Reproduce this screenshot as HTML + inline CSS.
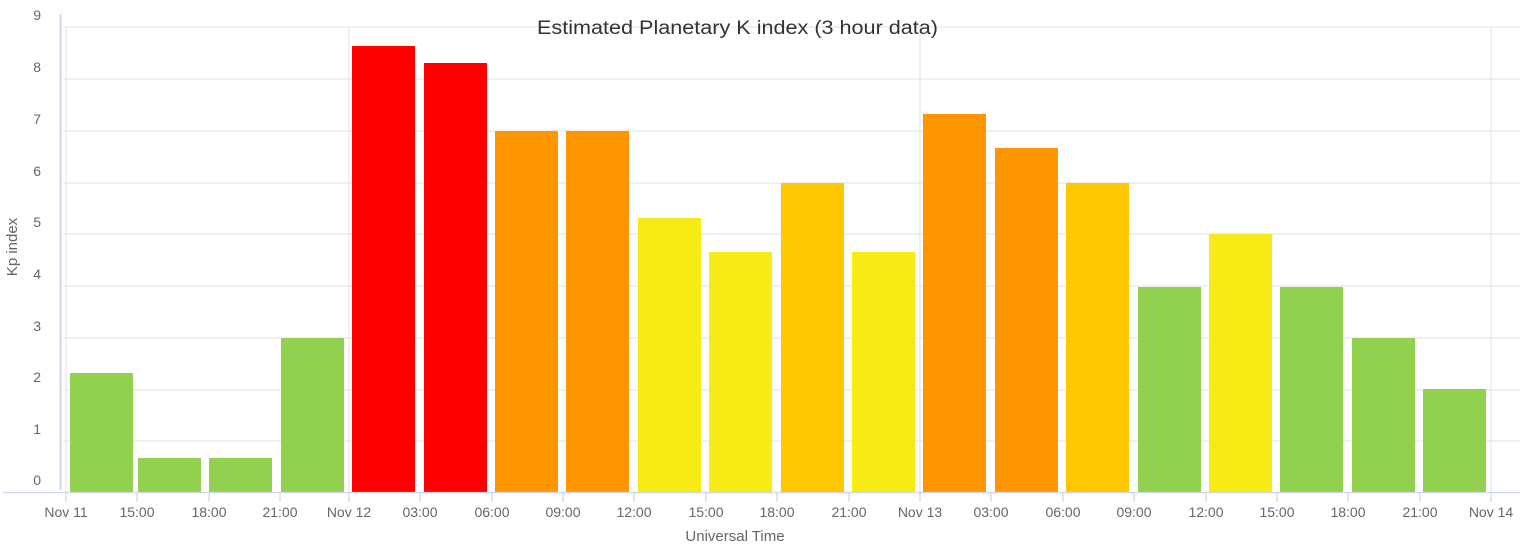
<!DOCTYPE html>
<html><head><meta charset="utf-8"><style>
html,body{margin:0;padding:0;background:#fff;}
svg{display:block;font-family:"Liberation Sans",sans-serif;}
</style></head><body>
<svg width="1520" height="546" viewBox="0 0 1520 546" xmlns="http://www.w3.org/2000/svg">
<g stroke="#e6e6e6" stroke-width="1.2">
<line x1="63" y1="27" x2="1520" y2="27"/><line x1="63" y1="79" x2="1520" y2="79"/><line x1="63" y1="131" x2="1520" y2="131"/><line x1="63" y1="183" x2="1520" y2="183"/><line x1="63" y1="234" x2="1520" y2="234"/><line x1="63" y1="286" x2="1520" y2="286"/><line x1="63" y1="338" x2="1520" y2="338"/><line x1="63" y1="390" x2="1520" y2="390"/><line x1="63" y1="441" x2="1520" y2="441"/>
<line x1="66" y1="27" x2="66" y2="492"/><line x1="349" y1="27" x2="349" y2="492"/><line x1="920" y1="27" x2="920" y2="492"/><line x1="1491" y1="27" x2="1491" y2="492"/>
</g>
<line x1="60.5" y1="14" x2="60.5" y2="490" stroke="#ccd6eb" stroke-width="2"/>
<g fill="#666" font-size="14" text-anchor="end">
<text x="41" y="20">9</text><text x="41" y="72">8</text><text x="41" y="124">7</text><text x="41" y="176">6</text><text x="41" y="227">5</text><text x="41" y="279">4</text><text x="41" y="331">3</text><text x="41" y="382">2</text><text x="41" y="434">1</text><text x="41" y="485">0</text>
</g>
<text transform="translate(17,247) rotate(-90)" fill="#666" font-size="15" text-anchor="middle">Kp index</text>
<g>
<rect x="70" y="373" width="63" height="119" fill="#92D050"/>
<rect x="138" y="458" width="63" height="34" fill="#92D050"/>
<rect x="209" y="458" width="63" height="34" fill="#92D050"/>
<rect x="281" y="338" width="63" height="154" fill="#92D050"/>
<rect x="352" y="46" width="63" height="446" fill="#FF0000"/>
<rect x="424" y="63" width="63" height="429" fill="#FF0000"/>
<rect x="495" y="131" width="63" height="361" fill="#FF9600"/>
<rect x="566" y="131" width="63" height="361" fill="#FF9600"/>
<rect x="638" y="218" width="63" height="274" fill="#F6EB14"/>
<rect x="709" y="252" width="63" height="240" fill="#F6EB14"/>
<rect x="781" y="183" width="63" height="309" fill="#FFC800"/>
<rect x="852" y="252" width="63" height="240" fill="#F6EB14"/>
<rect x="923" y="114" width="63" height="378" fill="#FF9600"/>
<rect x="995" y="148" width="63" height="344" fill="#FF9600"/>
<rect x="1066" y="183" width="63" height="309" fill="#FFC800"/>
<rect x="1138" y="287" width="63" height="205" fill="#92D050"/>
<rect x="1209" y="234" width="63" height="258" fill="#F6EB14"/>
<rect x="1280" y="287" width="63" height="205" fill="#92D050"/>
<rect x="1352" y="338" width="63" height="154" fill="#92D050"/>
<rect x="1423" y="389" width="63" height="103" fill="#92D050"/>
</g>
<line x1="3" y1="492.5" x2="1520" y2="492.5" stroke="#ccd6eb" stroke-width="1.2"/>
<g stroke="#ccd6eb" stroke-width="1.2">
<line x1="66" y1="492" x2="66" y2="502"/><line x1="137" y1="492" x2="137" y2="502"/><line x1="209" y1="492" x2="209" y2="502"/><line x1="280" y1="492" x2="280" y2="502"/><line x1="349" y1="492" x2="349" y2="502"/><line x1="420" y1="492" x2="420" y2="502"/><line x1="492" y1="492" x2="492" y2="502"/><line x1="563" y1="492" x2="563" y2="502"/><line x1="634" y1="492" x2="634" y2="502"/><line x1="706" y1="492" x2="706" y2="502"/><line x1="777" y1="492" x2="777" y2="502"/><line x1="849" y1="492" x2="849" y2="502"/><line x1="920" y1="492" x2="920" y2="502"/><line x1="991" y1="492" x2="991" y2="502"/><line x1="1063" y1="492" x2="1063" y2="502"/><line x1="1134" y1="492" x2="1134" y2="502"/><line x1="1206" y1="492" x2="1206" y2="502"/><line x1="1277" y1="492" x2="1277" y2="502"/><line x1="1348" y1="492" x2="1348" y2="502"/><line x1="1420" y1="492" x2="1420" y2="502"/><line x1="1491" y1="492" x2="1491" y2="502"/>
</g>
<g fill="#666" font-size="14" text-anchor="middle">
<text x="66" y="517">Nov 11</text><text x="137" y="517">15:00</text><text x="209" y="517">18:00</text><text x="280" y="517">21:00</text><text x="349" y="517">Nov 12</text><text x="420" y="517">03:00</text><text x="492" y="517">06:00</text><text x="563" y="517">09:00</text><text x="634" y="517">12:00</text><text x="706" y="517">15:00</text><text x="777" y="517">18:00</text><text x="849" y="517">21:00</text><text x="920" y="517">Nov 13</text><text x="991" y="517">03:00</text><text x="1063" y="517">06:00</text><text x="1134" y="517">09:00</text><text x="1206" y="517">12:00</text><text x="1277" y="517">15:00</text><text x="1348" y="517">18:00</text><text x="1420" y="517">21:00</text><text x="1491" y="517">Nov 14</text>
</g>
<text x="735" y="541" fill="#666" font-size="15" text-anchor="middle">Universal Time</text>
<text x="537" y="34" fill="#333" font-size="19" textLength="401" lengthAdjust="spacingAndGlyphs">Estimated Planetary K index (3 hour data)</text>
</svg>
</body></html>
